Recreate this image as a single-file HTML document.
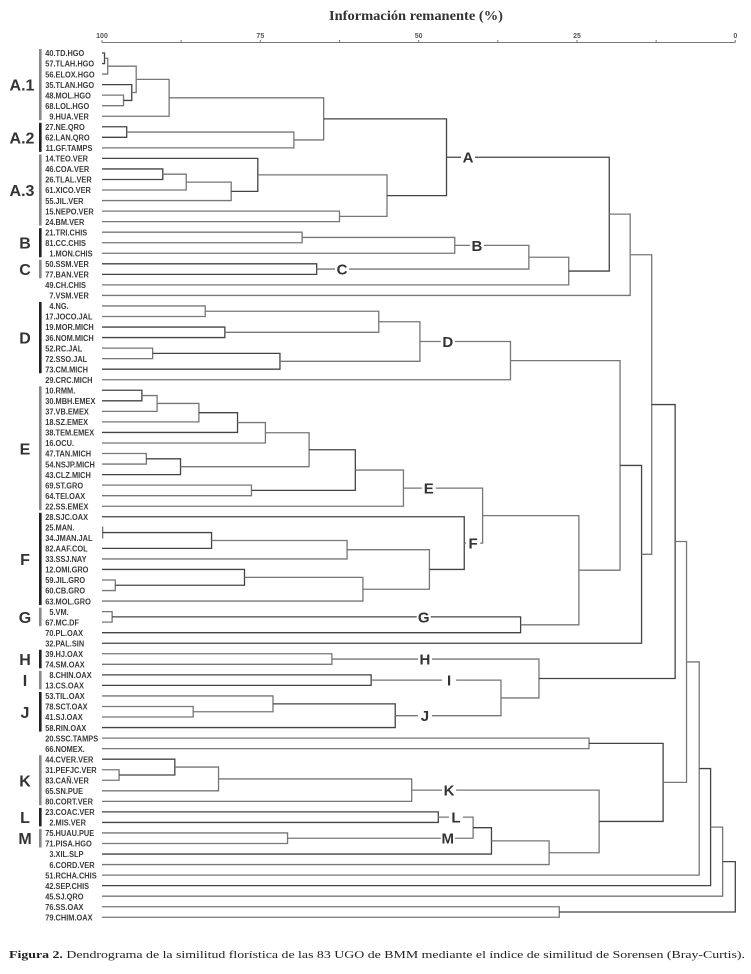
<!DOCTYPE html>
<html><head><meta charset="utf-8"><style>
html,body{margin:0;padding:0;background:#fff;}
svg{display:block;}
</style></head><body>
<svg id="chart" width="751" height="974" viewBox="0 0 751 974" xmlns="http://www.w3.org/2000/svg">
<rect width="751" height="974" fill="#fff"/>
<g id="axis"></g>
<g id="links"></g>
<g id="leaves"></g>
<g id="groups"></g>
<g id="clabels"></g>
<text x="329" y="20" textLength="174" lengthAdjust="spacingAndGlyphs" font-family="Liberation Serif, serif" font-weight="bold" font-size="14" fill="#333">Información remanente (%)</text>
<text x="9" y="958" textLength="736" lengthAdjust="spacingAndGlyphs" font-family="Liberation Serif, serif" font-size="11" fill="#222"><tspan font-weight="bold">Figura 2.</tspan> Dendrograma de la similitud florística de las 83 UGO de BMM mediante el  índice de similitud de Sorensen (Bray-Curtis).</text>
</svg>
<script>
const leafNames = ["40.TD.HGO","57.TLAH.HGO","56.ELOX.HGO","35.TLAN.HGO","48.MOL.HGO","68.LOL.HGO","9.HUA.VER","27.NE.QRO","62.LAN.QRO","11.GF.TAMPS","14.TEO.VER","46.COA.VER","26.TLAL.VER","61.XICO.VER","55.JIL.VER","15.NEPO.VER","24.BM.VER","21.TRI.CHIS","81.CC.CHIS","1.MON.CHIS","50.SSM.VER","77.BAN.VER","49.CH.CHIS","7.VSM.VER","4.NG.","17.JOCO.JAL","19.MOR.MICH","36.NOM.MICH","52.RC.JAL","72.SSO.JAL","73.CM.MICH","29.CRC.MICH","10.RMM.","30.MBH.EMEX","37.VB.EMEX","18.SZ.EMEX","38.TEM.EMEX","16.OCU.","47.TAN.MICH","54.NSJP.MICH","43.CLZ.MICH","69.ST.GRO","64.TEI.OAX","22.SS.EMEX","28.SJC.OAX","25.MAN.","34.JMAN.JAL","82.AAF.COL","33.SSJ.NAY","12.OMI.GRO","59.JIL.GRO","60.CB.GRO","63.MOL.GRO","5.VM.","67.MC.DF","70.PL.OAX","32.PAL.SIN","39.HJ.OAX","74.SM.OAX","8.CHIN.OAX","13.CS.OAX","53.TIL.OAX","78.SCT.OAX","41.SJ.OAX","58.RIN.OAX","20.SSC.TAMPS","66.NOMEX.","44.CVER.VER","31.PEFJC.VER","83.CAÑ.VER","65.SN.PUE","80.CORT.VER","23.COAC.VER","2.MIS.VER","75.HUAU.PUE","71.PISA.HGO","3.XIL.SLP","6.CORD.VER","51.RCHA.CHIS","42.SEP.CHIS","45.SJ.QRO","76.SS.OAX","79.CHIM.OAX"];
// merges: child A, child B (leaf index <83, else 83+merge index)
const mergeA = [0,83,4,3,84,87,7,89,88,11, 92,93,10,15,95,91,17,99,20,100, 102,98,104,24,26,106,28,109,108,111, 32,113,114,115,116,38,118,117,41,120, 122,45,124,125,50,49,128,126,44,123, 53,133,132,112,136,105,57,59,62,61, 142,140,139,138,65,68,67,149,150,72, 74,152,154,155,151,147,146,159,160,161, 81,162];
const mergeB = [1,2,5,85,86,6,8,9,90,12, 13,14,94,16,96,97,18,19,21,101, 22,103,23,25,27,107,29,30,110,31, 33,34,35,36,37,39,40,119,42,121, 43,46,47,48,51,127,52,129,130,131, 54,55,134,135,56,137,58,60,63,141, 64,143,144,145,66,69,148,70,71,73, 75,153,76,77,156,157,158,78,79,80, 82,163];
const mergeHeight = [99.6,99.1,96.6,95.3,94.6,89.4,96.1,69.7,65.0,90.4, 86.7,79.6,75.4,62.5,55.0,45.6,68.4,44.3,66.1,32.6, 26.3,19.9,16.6,83.7,80.6,56.3,92.0,71.9,49.8,35.5, 93.7,91.3,84.7,78.6,74.2,93.0,87.6,67.3,76.4,60.0, 52.4,99.9,82.7,61.3,97.9,77.5,58.8,48.3,42.8,39.9, 98.4,33.9,24.7,18.2,14.8,13.2,63.7,57.5,85.6,73.0, 53.7,37.0,31.0,9.5,23.1,97.3,88.5,81.6,51.1,46.9, 70.7,41.4,38.5,29.4,21.5,11.4,7.7,5.7,3.9,2.0, 27.8,0.0];
const tickValues = [100,87.5,75,62.5,50,37.5,25,12.5,0];
const tickLabels = ["100","","75","","50","","25","","0"];
const clusterNames = ["A","B","C","D","E","F","G","H","I","J","K","L","M"];
const clusterNode = [98,100,101,111,123,131,133,139,140,143,151,152,153];
const clusterLabelPos = [42.2,40.8,62.1,45.4,48.4,41.4,49.2,49.0,45.2,49.0,45.2,44.1,45.4];
const groupNames = ["A.1","A.2","A.3","B","C","D","E","F","G","H","I","J","K","L","M"];
const groupFirstLeaf = [0,7,10,17,20,24,32,44,53,57,59,61,67,72,74];
const groupLastLeaf = [6,9,16,19,21,30,43,52,54,58,60,64,71,73,75];

const NS="http://www.w3.org/2000/svg";
const X0=102, PXU=6.333, Y0=53, DY=10.54;
const xs = v => X0 + (100 - v) * PXU;
const ys = i => Y0 + i * DY;
function mk(tag, attrs, parent){const e=document.createElementNS(NS,tag);for(const k in attrs)e.setAttribute(k,attrs[k]);parent.appendChild(e);return e;}
const gAxis=document.getElementById('axis'),gLinks=document.getElementById('links'),gLeaves=document.getElementById('leaves'),gGroups=document.getElementById('groups'),gCl=document.getElementById('clabels');

// axis
let ax=mk('line',{x1:xs(100),x2:xs(0),y1:42.5,y2:42.5,stroke:'#777','stroke-width':1},gAxis);


tickValues.forEach((v,i)=>{
  const t=mk('line',{x1:xs(v),x2:xs(v),y1:40,y2:42.5,stroke:'#777','stroke-width':1},gAxis);
  
  
  if(tickLabels[i]){
    const l=mk('text',{x:xs(v),y:38,'text-anchor':'middle','font-family':'Liberation Sans, sans-serif','font-size':7,'font-weight':'bold',fill:'#555'},gAxis);
    l.textContent=tickLabels[i];
    
    
  }
});

// node positions
const nx=[],ny=[];
for(let i=0;i<leafNames.length;i++){nx.push(xs(100));ny.push(ys(i));}
for(let m=0;m<mergeA.length;m++){
  const a=mergeA[m],b=mergeB[m],x=xs(mergeHeight[m]);
  nx.push(x);ny.push((ny[a]+ny[b])/2);
  const p=mk('path',{d:`M${nx[a]},${ny[a]}H${x}V${ny[b]}H${nx[b]}`,fill:'none',stroke:(m%3===0?'#444':'#777'),'stroke-width':1.3},gLinks);
  
  
}

// leaf labels
leafNames.forEach((n,i)=>{
  const k=n.indexOf('.');
  const g=mk('g',{transform:`translate(53.5,${ys(i)+3.2}) scale(0.86,1)`,'font-family':'Liberation Sans, sans-serif','font-size':8.6,'font-weight':'bold',fill:'#3a3a3a'},gLeaves);
  
  
  const t1=mk('text',{x:0,y:0,'text-anchor':'end'},g);t1.textContent=n.slice(0,k);
  const t2=mk('text',{x:0,y:0},g);t2.textContent=n.slice(k);
});

// group bars and letters
groupNames.forEach((n,i)=>{
  const y1=ys(groupFirstLeaf[i])-4,y2=ys(groupLastLeaf[i])+4;
  const r=mk('rect',{x:39,y:y1,width:2.6,height:y2-y1,fill:(i%2===0?'#888':'#222')},gGroups);
  
  
  const t=mk('text',{x:n.length>1?22:25,y:(y1+y2)/2+6,'text-anchor':'middle','font-family':'Liberation Sans, sans-serif','font-size':16,'font-weight':'bold',fill:'#333'},gGroups);
  t.textContent=n;
  
  
});

// cluster labels on lines
clusterNames.forEach((n,i)=>{
  const node=clusterNode[i],x=xs(clusterLabelPos[i]),y=ny[node];
  const r=mk('rect',{x:x-7,y:y-8,width:14,height:16,fill:'#fff'},gCl);
  
  
  const t=mk('text',{x:x,y:y+5.5,'text-anchor':'middle','font-family':'Liberation Sans, sans-serif','font-size':15,'font-weight':'bold',fill:'#333'},gCl);
  t.textContent=n;
  
  
});
</script>
</body></html>
